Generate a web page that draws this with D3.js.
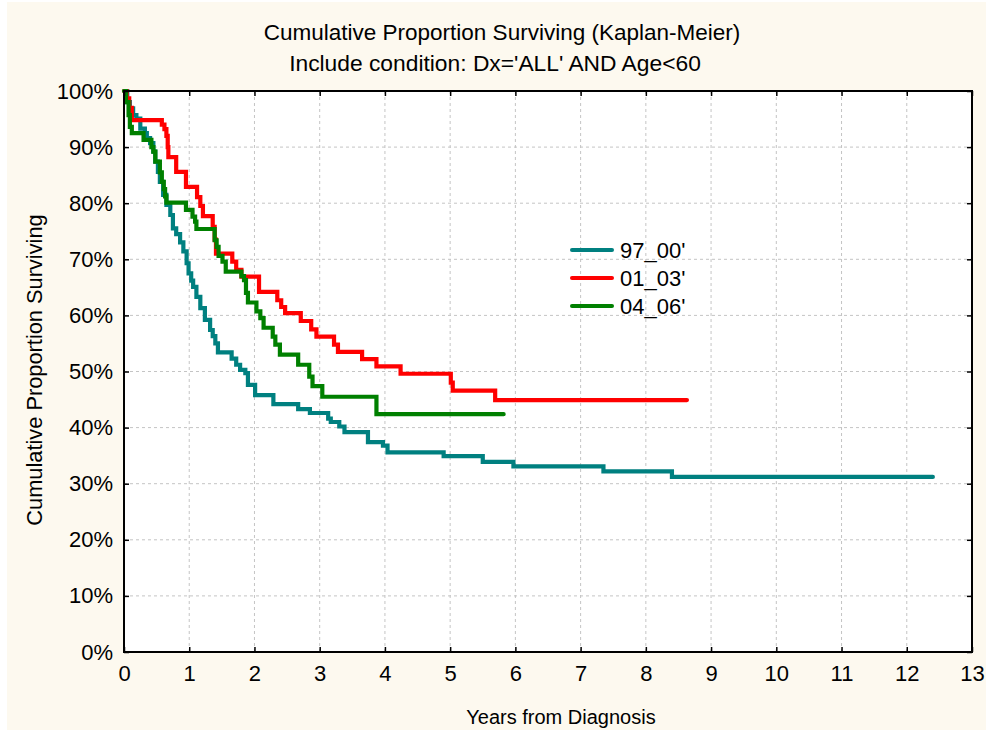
<!DOCTYPE html>
<html>
<head>
<meta charset="utf-8">
<script src="https://cdn.jsdelivr.net/npm/d3@7"></script>
<style>
  html, body { margin: 0; padding: 0; background: #ffffff; }
  svg { display: block; }
  text { font-family: "Liberation Sans", Arial, sans-serif; fill: #000; }
</style>
</head>
<body>
<svg id="chart" width="986" height="731"></svg>
<script>
// ---------------- DATA ----------------
const titleLines = ["Cumulative Proportion Surviving (Kaplan-Meier)", "Include condition: Dx='ALL' AND Age<60"];
const xLabel = "Years from Diagnosis";
const yLabel = "Cumulative Proportion Surviving";
const xTicks = [0,1,2,3,4,5,6,7,8,9,10,11,12,13];
const yTicks = [0,10,20,30,40,50,60,70,80,90,100];
const seriesNames = ["97_00'", "01_03'", "04_06'"];
const seriesColors = ["#008080", "#ff0000", "#008000"];

// 97_00' : step times (years) and survival (%) after each step
const t9700 = [0,0.05,0.09,0.14,0.19,0.25,0.32,0.35,0.40,0.45,0.48,0.52,0.55,0.60,0.65,0.71,0.75,0.80,0.86,0.91,0.96,0.99,1.03,1.06,1.11,1.17,1.24,1.32,1.36,1.40,1.44,1.65,1.72,1.78,1.86,1.90,2.01,2.29,2.67,2.85,3.13,3.17,3.30,3.38,3.74,3.97,4.04,4.90,5.50,5.97,7.35,8.40,12.40];
const s9700 = [100,98,96.9,95.7,95.1,93.3,92.5,91.6,90.7,89.2,87.4,85.6,83.8,81.5,79.7,77.9,75.5,74.5,73,71.4,69.3,67.5,66.2,65.1,63.3,61.3,59.2,57.4,56.3,55,53.4,52.3,51.2,50.3,49.7,47.6,45.8,44.2,43.3,42.6,41.6,41,40.2,39.2,37.4,36.8,35.6,34.9,33.9,33.1,32.2,31.2,31.2];

// 01_03'
const t0103 = [0,0.04,0.08,0.12,0.58,0.62,0.65,0.67,0.68,0.80,0.95,1.12,1.17,1.21,1.36,1.39,1.41,1.66,1.72,1.80,2.07,2.35,2.41,2.47,2.71,2.87,2.95,3.22,3.28,3.65,3.87,4.24,5.01,5.04,5.69,8.63];
const s0103 = [100,98.7,97,94.8,94,93.2,92,90,88.2,85.6,82.9,81.1,79.5,77.7,75.8,73.5,71,69.6,68.1,66.9,64.2,62.7,61.5,60.4,59,57.5,56.2,54.8,53.5,52.2,50.9,49.6,48,46.6,44.9,44.9];

// 04_06'
const t0406 = [0,0.03,0.07,0.09,0.12,0.30,0.42,0.45,0.48,0.55,0.58,0.61,0.63,0.65,0.95,1.05,1.09,1.11,1.39,1.42,1.45,1.51,1.56,1.80,1.84,1.87,1.90,2.03,2.09,2.14,2.28,2.32,2.39,2.67,2.84,2.89,3.04,3.87,5.82];
const s0406 = [100,98,95.7,93.6,92.5,91.3,90,89.2,87.4,85.5,83.8,82.5,81.2,80.1,78.8,77.6,76.7,75.4,73.4,72.2,70.6,69.6,67.8,67,66.3,64,62.3,60.7,59.5,57.8,56.2,54.8,53,51.2,49.1,47.4,45.5,42.4,42.4];

const seriesTimes = [t9700, t0103, t0406];
const seriesSurv = [s9700, s0103, s0406];

// ---------------- LAYOUT ----------------
const svg = d3.select("#chart");
const L = 124, R = 972, T = 91, B = 652;
const fs = 22;

svg.append("rect").attr("x", 7).attr("y", 2).attr("width", 979).attr("height", 728).attr("fill", "#fdf9ef");
svg.append("rect").attr("x", L).attr("y", T).attr("width", R - L).attr("height", B - T).attr("fill", "#ffffff");

const x = d3.scaleLinear().domain([0, 13]).range([L, R]);
const y = d3.scaleLinear().domain([0, 100]).range([B, T]);

// grid
const grid = svg.append("g");
grid.selectAll("line.vx").data(xTicks.slice(1, -1)).join("line")
  .attr("x1", d => x(d)).attr("x2", d => x(d)).attr("y1", T).attr("y2", B)
  .attr("stroke", "#c4c4c4").attr("stroke-width", 1).attr("stroke-dasharray", "3,3");
grid.selectAll("line.hy").data(yTicks.slice(1, -1)).join("line")
  .attr("x1", L).attr("x2", R).attr("y1", d => y(d)).attr("y2", d => y(d))
  .attr("stroke", "#c4c4c4").attr("stroke-width", 1).attr("stroke-dasharray", "3,3");

// series
const line = d3.line().x(d => x(d[0])).y(d => y(d[1])).curve(d3.curveStepAfter);
seriesNames.forEach((name, i) => {
  const pts = seriesTimes[i].map((t, j) => [t, seriesSurv[i][j]]);
  svg.append("path").datum(pts).attr("d", line)
    .attr("fill", "none").attr("stroke", seriesColors[i])
    .attr("stroke-width", 4.2).attr("stroke-linejoin", "miter").attr("stroke-linecap", "round");
});

// frame
svg.append("rect").attr("x", L).attr("y", T).attr("width", R - L).attr("height", B - T)
  .attr("fill", "none").attr("stroke", "#000").attr("stroke-width", 2);

// axes
function styleAxis(g) {
  g.select(".domain").remove();
  g.selectAll(".tick line").attr("stroke", "#000").attr("stroke-width", 1.5);
  g.selectAll(".tick text").attr("font-size", fs).attr("font-family", "Liberation Sans, Arial, sans-serif").attr("fill", "#000");
}
svg.append("g").attr("transform", `translate(0,${B})`)
  .call(d3.axisBottom(x).tickValues(xTicks).tickSize(-5).tickPadding(13.5).tickFormat(d3.format("d")))
  .call(styleAxis);
svg.append("g").attr("transform", `translate(0,${T})`)
  .call(d3.axisTop(x).tickValues(xTicks).tickSize(-5).tickFormat(""))
  .call(styleAxis);
svg.append("g").attr("transform", `translate(${L},0)`)
  .call(d3.axisLeft(y).tickValues(yTicks).tickSize(-5).tickPadding(11).tickFormat(d => d + "%"))
  .call(styleAxis);
svg.append("g").attr("transform", `translate(${R},0)`)
  .call(d3.axisRight(y).tickValues(yTicks).tickSize(-5).tickFormat(""))
  .call(styleAxis);

// titles
svg.append("text").attr("x", 502).attr("y", 40).attr("text-anchor", "middle").attr("font-size", 22.5).text(titleLines[0]);
svg.append("text").attr("x", 495).attr("y", 71).attr("text-anchor", "middle").attr("font-size", 22.8).text(titleLines[1]);
svg.append("text").attr("x", 561).attr("y", 724).attr("text-anchor", "middle").attr("font-size", 20).text(xLabel);
svg.append("text").attr("transform", "translate(42,370) rotate(-90)").attr("text-anchor", "middle").attr("font-size", 21.8).text(yLabel);

// legend
const legY = [250, 278, 306];
seriesNames.forEach((name, i) => {
  svg.append("line").attr("x1", 572).attr("x2", 612).attr("y1", legY[i]).attr("y2", legY[i])
    .attr("stroke", seriesColors[i]).attr("stroke-width", 4).attr("stroke-linecap", "round");
  svg.append("text").attr("x", 620).attr("y", legY[i] + 7.5).attr("font-size", fs).text(name);
});
</script>
</body>
</html>
